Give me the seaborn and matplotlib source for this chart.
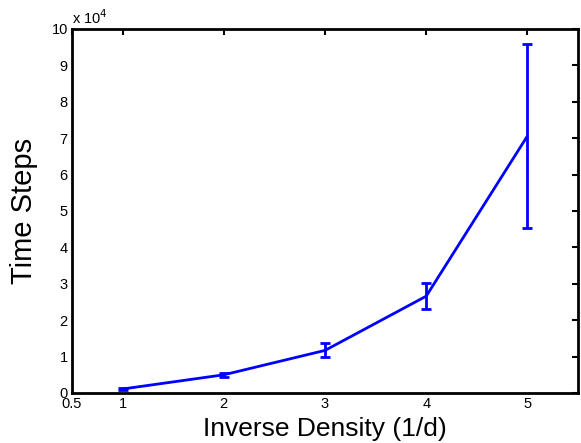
import matplotlib
matplotlib.use("Agg")
import matplotlib.pyplot as plt
import seaborn as sns
import pandas as pd

inverse_density = [1, 2, 3, 4, 5]
time_steps = [1100, 5000, 11700, 26600, 70600]
time_err = [200, 500, 1900, 3600, 25300]
x_ticks = [0.5, 1, 2, 3, 4, 5]
x_tick_labels = ["0.5", "1", "2", "3", "4", "5"]
y_ticks = [0, 10000, 20000, 30000, 40000, 50000, 60000, 70000, 80000, 90000, 100000]
y_tick_labels = ["0", "1", "2", "3", "4", "5", "6", "7", "8", "9", "10"]

df = pd.DataFrame({"x": inverse_density, "y": time_steps, "err": time_err})

sns.set_style("white")
plt.rcParams["font.family"] = ["Liberation Sans", "DejaVu Sans"]
plt.rcParams["text.color"] = "black"
plt.rcParams["axes.labelcolor"] = "black"

fig = plt.figure(figsize=(5.81, 4.43), dpi=100)
ax = fig.add_axes([72 / 581, 1 - 393 / 443, (578 - 72) / 581, (393 - 29) / 443])

sns.lineplot(data=df, x="x", y="y", ax=ax, color="#0000ff", linewidth=2.0)
ax.errorbar(df["x"], df["y"], yerr=df["err"], fmt="none", ecolor="#0000ff",
            elinewidth=2.0, capsize=3.3, capthick=2.0)

ax.set_xlim(0.5, 5.5)
ax.set_ylim(0, 100000)
ax.set_xticks(x_ticks)
ax.set_xticklabels(x_tick_labels)
ax.set_yticks(y_ticks)
ax.set_yticklabels(y_tick_labels)
ax.tick_params(direction="in", length=4, width=1.5, top=True, right=True,
               labelsize=10.5, colors="black", pad=3)
for s in ax.spines.values():
    s.set_visible(True)
    s.set_color("black")
    s.set_linewidth(2)

ax.set_xlabel("Inverse Density (1/d)", fontsize=19, labelpad=4, color="black")
ax.set_ylabel("Time Steps", fontsize=21, labelpad=10, color="black")
ax.text(0.0, 1.005, r"x 10$^{4}$", transform=ax.transAxes, fontsize=10.5,
        ha="left", va="bottom", color="black")

fig.savefig("out.png", dpi=100)
